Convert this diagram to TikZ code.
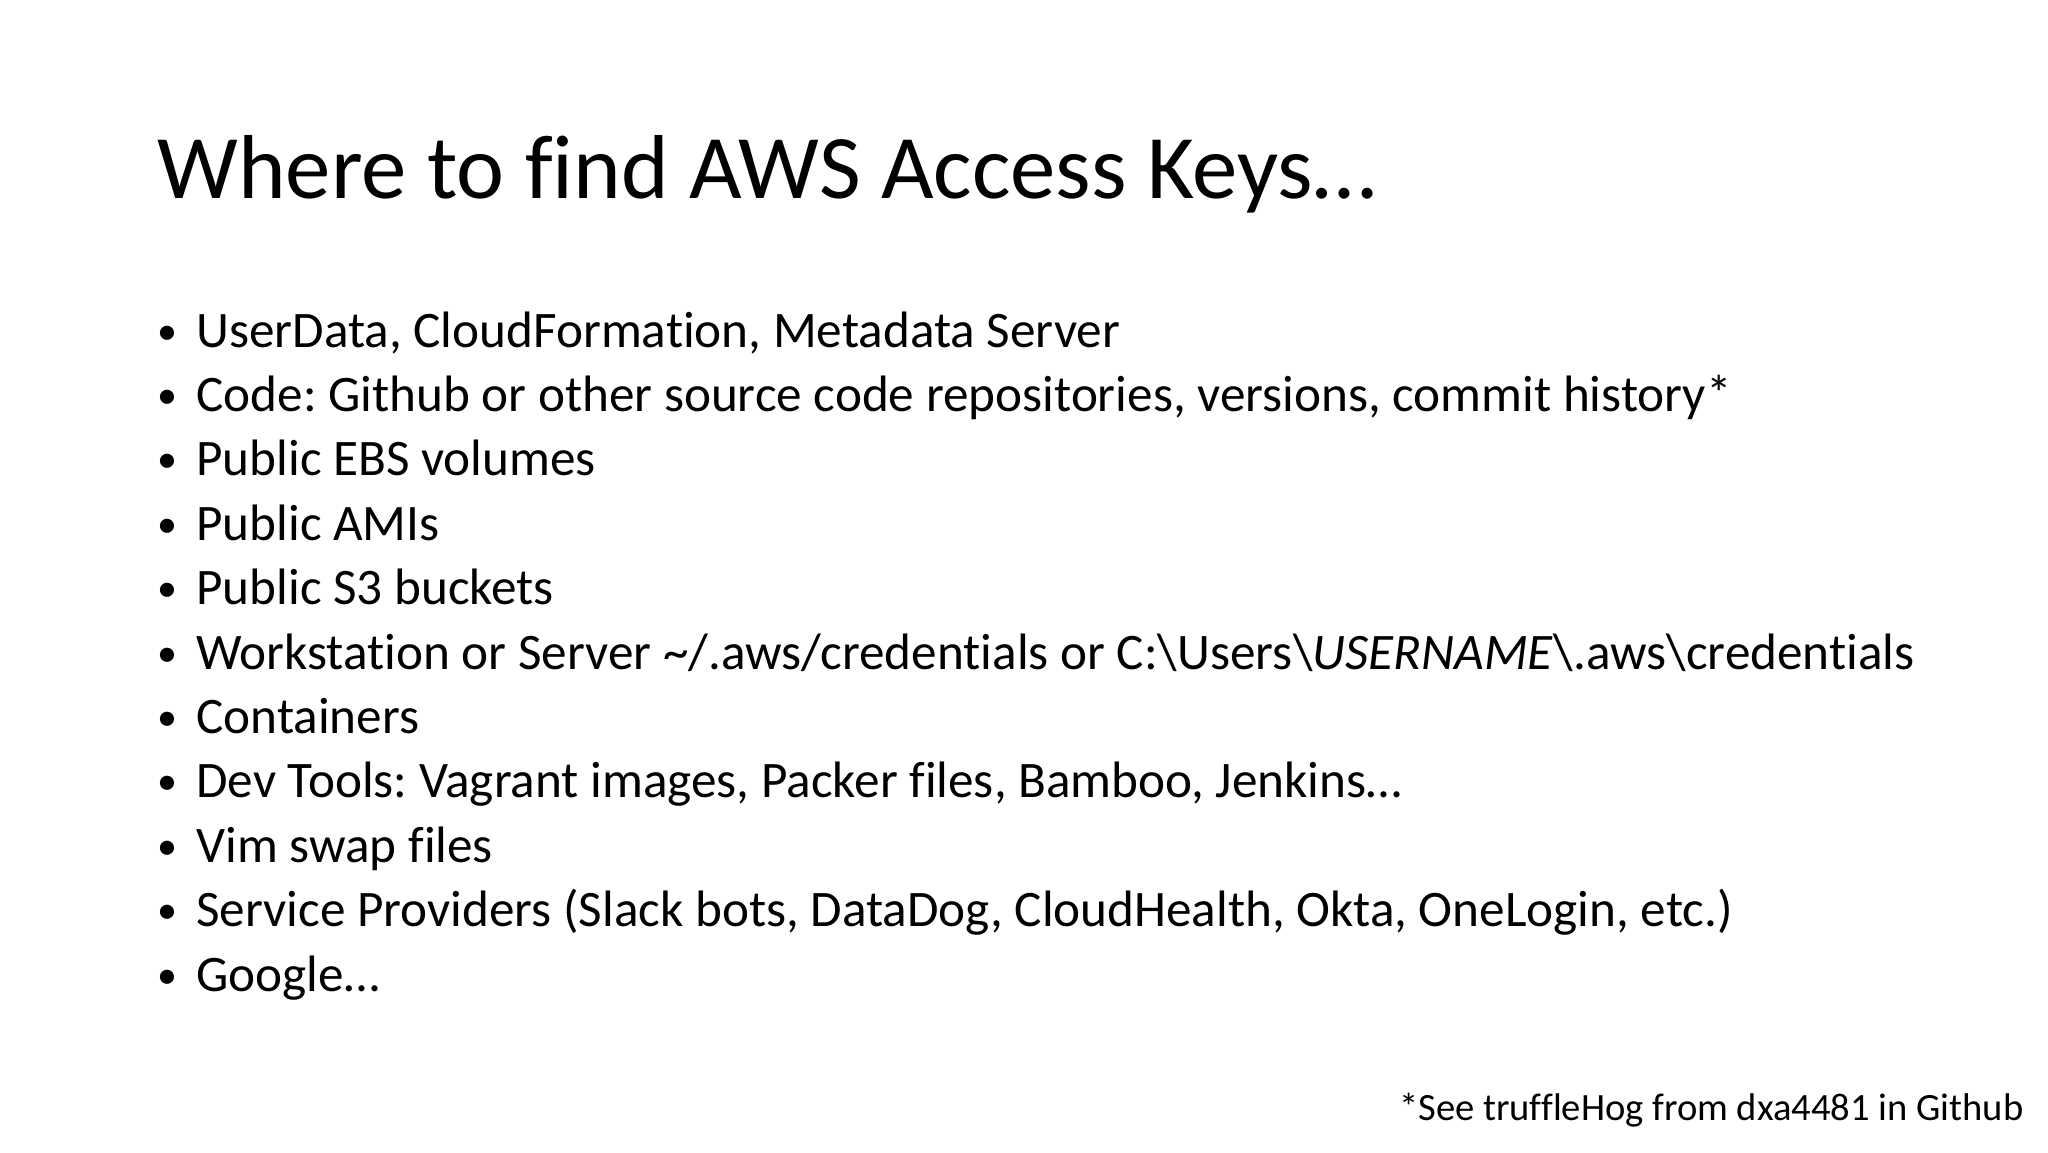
\documentclass[tikz,border=0pt]{standalone}
\usepackage{fontspec}
\setmainfont{Carlito}[Ligatures=NoCommon]
\frenchspacing
\begin{document}
\begin{tikzpicture}[x=0.5pt,y=-0.5pt,
  item/.style={anchor=base west,inner sep=0pt,font=\fontsize{25.6pt}{30pt}\selectfont},
  bul/.style={anchor=base west,inner sep=0pt,font=\fontsize{20pt}{30pt}\selectfont}]
\useasboundingbox[fill=white] (0,0) rectangle (2048,1152);
\node[anchor=base west,inner sep=0pt,font=\fontsize{45.4pt}{55pt}\selectfont] (title) at (157,198) {Where to find AWS Access Keys…};
\foreach \t [count=\i] in {
 {UserData, CloudFormation, Metadata Server},
 {Code: Github or other source code repositories, versions, commit history*},
 {Public EBS volumes},
 {Public AMIs},
 {Public S3 buckets},
 {Workstation or Server \textasciitilde/.aws/credentials or C:\textbackslash Users\textbackslash\textit{USERNAME}\textbackslash.aws\textbackslash credentials},
 {Containers},
 {Dev Tools: Vagrant images, Packer files, Bamboo, Jenkins…},
 {Vim swap files},
 {Service Providers (Slack bots, DataDog, CloudHealth, Okta, OneLogin, etc.)},
 {Google…}}{
 \node[bul] (b\i) at (157,{344+64.4*(\i-1)}) {\textbullet};
 \node[item] (t\i) at (196,{347+64.4*(\i-1)}) {\t};
}
\node[anchor=base east,inner sep=0pt,font=\fontsize{19.3pt}{22pt}\selectfont] (foot) at (2024,1120) {*See truffleHog from dxa4481 in Github};
\end{tikzpicture}
\end{document}
